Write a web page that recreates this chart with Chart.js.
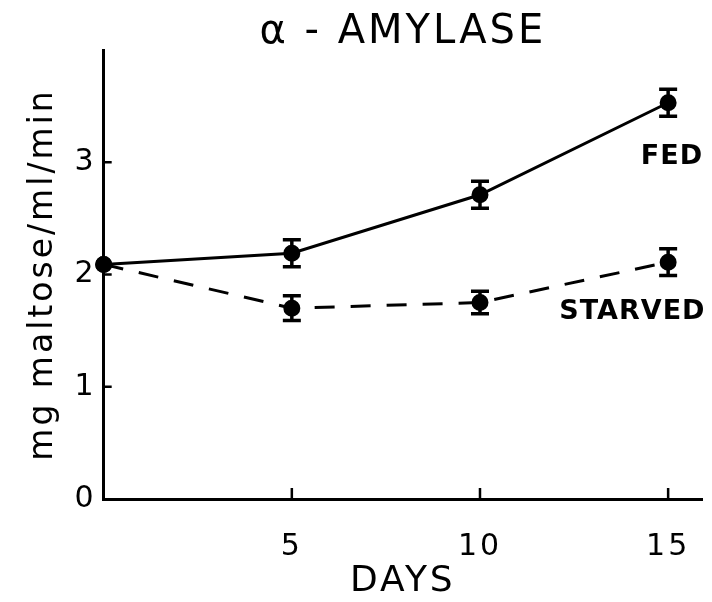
<!DOCTYPE html>
<html>
<head>
<meta charset="utf-8">
<script src="https://cdn.jsdelivr.net/npm/chart.js@4"></script>
<style>
body{margin:0;background:#fff}
</style>
</head>
<body>
<canvas id="c" width="712" height="602"></canvas>
<script>
// values
const days=[0,5,10,15]
const fed=[2.09,2.19,2.71,3.53]
const fedErr=[0,0.12,0.12,0.12]
const starved=[2.09,1.70,1.75,2.11]
const starvedErr=[0,0.11,0.10,0.12]
const xTicks=[5,10,15]
const yTicks=[0,1,2,3]
const seriesLabels=[{text:'FED',x:15.1,y:3.05},{text:'STARVED',x:14.05,y:1.67}]

const ink='#000'
const fnt='"DejaVu Sans", sans-serif'

function pts(ys){return days.map((d,i)=>({x:d,y:ys[i]}))}

const spacing={
  id:'spacing',
  beforeUpdate(c){c.ctx.letterSpacing='3px'},
  beforeDraw(c){c.ctx.letterSpacing='3px'}
}

// inward tick marks, error bars and the two series labels
const extras={
  id:'extras',
  afterDatasetsDraw(c){
    const ctx=c.ctx,xs=c.scales.x,ys=c.scales.y,a=c.chartArea
    ctx.save()
    ctx.strokeStyle=ink
    ctx.lineWidth=2.5
    ctx.beginPath()
    yTicks.slice(1).forEach(v=>{
      let p=ys.getPixelForValue(v)
      ctx.moveTo(a.left,p);ctx.lineTo(a.left+8,p)
    })
    xTicks.forEach(v=>{
      let p=xs.getPixelForValue(v)
      ctx.moveTo(p,a.bottom);ctx.lineTo(p,a.bottom-11)
    })
    ctx.stroke()
    ctx.lineWidth=3.5
    c.data.datasets.forEach(ds=>{
      ds.data.forEach((pt,i)=>{
        let e=ds.err[i]
        if(!e)return
        let px=xs.getPixelForValue(pt.x)
        let t=ys.getPixelForValue(pt.y+e),b=ys.getPixelForValue(pt.y-e)
        ctx.beginPath()
        ctx.moveTo(px,t);ctx.lineTo(px,b)
        ctx.moveTo(px-9,t);ctx.lineTo(px+9,t)
        ctx.moveTo(px-9,b);ctx.lineTo(px+9,b)
        ctx.stroke()
      })
    })
    ctx.fillStyle=ink
    ctx.letterSpacing='1px'
    ctx.font='bold 27px '+fnt
    ctx.textAlign='center'
    ctx.textBaseline='middle'
    seriesLabels.forEach(l=>{
      ctx.fillText(l.text,xs.getPixelForValue(l.x),ys.getPixelForValue(l.y))
    })
    ctx.restore()
  }
}

new Chart(document.getElementById('c'),{
  type:'line',
  data:{
    datasets:[
      {label:'Fed',data:pts(fed),err:fedErr,borderColor:ink,backgroundColor:ink,borderWidth:3,pointRadius:7,pointBackgroundColor:ink,tension:0},
      {label:'Starved',data:pts(starved),err:starvedErr,borderColor:ink,backgroundColor:ink,borderWidth:3,borderDash:[20,16],pointRadius:7,pointBackgroundColor:ink,tension:0}
    ]
  },
  options:{
    responsive:false,
    animation:false,
    clip:false,
    layout:{padding:{left:24,top:0,right:6,bottom:0}},
    plugins:{
      legend:{display:false},
      tooltip:{enabled:false},
      title:{display:true,text:'α - AMYLASE',color:ink,fullSize:false,font:{family:fnt,size:40,weight:'normal',lineHeight:0.85},padding:{top:16,bottom:0}}
    },
    scales:{
      x:{
        type:'linear',min:0,max:15.9,
        afterBuildTicks(s){s.ticks=xTicks.map(v=>({value:v}))},
        afterFit(s){s.paddingLeft=0;s.paddingRight=0},
        ticks:{color:ink,font:{family:fnt,size:30},padding:30,maxRotation:0},
        grid:{display:false,drawTicks:false},
        border:{display:true,color:ink,width:3},
        title:{display:true,text:'DAYS',color:ink,font:{family:fnt,size:36,lineHeight:1.0},padding:{top:-31,bottom:2}}
      },
      y:{
        min:0,max:4,
        afterBuildTicks(s){s.ticks=yTicks.map(v=>({value:v}))},
        ticks:{color:ink,font:{family:fnt,size:30},padding:7},
        grid:{display:false,drawTicks:false},
        border:{display:true,color:ink,width:3},
        title:{display:true,text:'mg maltose/ml/min',color:ink,font:{family:fnt,size:33},padding:{top:0,bottom:4}}
      }
    }
  },
  plugins:[spacing,extras]
})
</script>
</body>
</html>
